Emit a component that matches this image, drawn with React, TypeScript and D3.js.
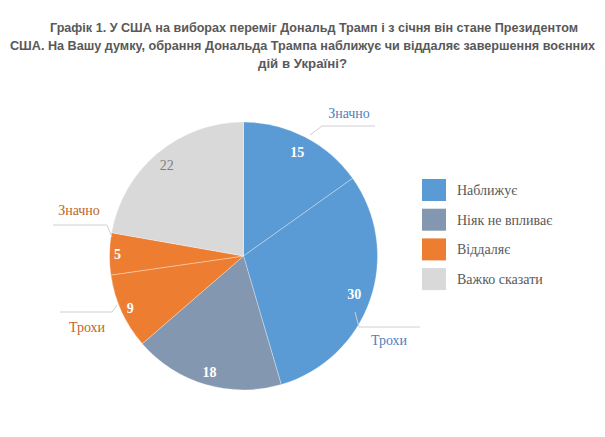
import React from "react";
import * as d3 from "d3";

const sliceValues = [15, 30, 18, 9, 5, 22];
const sliceGroups = ["Наближує", "Наближує", "Ніяк не впливає", "Віддаляє", "Віддаляє", "Важко сказати"];
const sliceSubLabels = ["Значно", "Трохи", "", "Трохи", "Значно", ""];
const legendLabels = ["Наближує", "Ніяк не впливає", "Віддаляє", "Важко сказати"];
const legendColors = ["#5b9bd5", "#8497b0", "#ed7d31", "#d9d9d9"];
const titleLines = [
  "Графік 1. У США на виборах переміг Дональд Трамп і з січня він стане Президентом",
  "США. На Вашу думку, обрання Дональда Трампа наближує чи віддаляє завершення воєнних",
  "дій в Україні?",
];

export default function App() {
  const W = 605, H = 437;
  const cx = 243.5, cy = 256, r = 134;
  const color = d3.scaleOrdinal<string, string>().domain(legendLabels).range(legendColors);
  const pie = d3.pie<number>().sort(null).value((d) => d);
  const arcs = pie(sliceValues);
  const arcGen = d3.arc<d3.PieArcDatum<number>>().innerRadius(0).outerRadius(r);
  const labelRadii = [0.875, 0.875, 0.9, 0.93, 0.94, 0.89];

  const valueColor = (i: number) => (sliceGroups[i] === "Важко сказати" ? "#7f7f7f" : "#ffffff");
  const valueBold = (i: number) => sliceGroups[i] !== "Важко сказати";

  const outer: Record<number, { pts: [number, number][]; tx: number; ty: number; col: string }> = {
    0: { pts: [[310, 135], [322, 126], [375, 126]], tx: 349, ty: 118, col: "#4f81bd" },
    1: { pts: [[355, 312], [359, 327], [420, 327]], tx: 389, ty: 345, col: "#4f81bd" },
    3: { pts: [[117, 305], [112, 312], [60, 312]], tx: 87, ty: 332, col: "#c0652b" },
    4: { pts: [[112, 237], [107, 225], [53, 225]], tx: 79, ty: 215, col: "#c0652b" },
  };

  const tw = [528, 585, 89];
  const tx = [314, 302.5, 302.5];
  const ty = [32, 50, 68];

  return (
    <svg width={W} height={H} style={{ position: "absolute", left: 0, top: 0, background: "#fff" }}>
      {titleLines.map((t, i) => (
        <text
          key={i}
          x={tx[i]}
          y={ty[i]}
          textAnchor="middle"
          fontFamily="Liberation Sans, Arial, sans-serif"
          fontWeight="bold"
          fontSize={13}
          fill="#595959"
          textLength={tw[i]}
          lengthAdjust="spacingAndGlyphs"
        >
          {t}
        </text>
      ))}
      <g transform={`translate(${cx},${cy})`}>
        {arcs.map((a, i) => (
          <path key={i} d={arcGen(a) || ""} fill={color(sliceGroups[i])} stroke="#ffffff" strokeWidth={0.6} strokeOpacity={0.5} />
        ))}
        {arcs.map((a, i) => {
          const rr = r * labelRadii[i];
          const [x, y] = d3.arc<d3.PieArcDatum<number>>().innerRadius(rr).outerRadius(rr).centroid(a);
          return (
            <text
              key={"v" + i}
              x={x}
              y={y}
              dy="0.35em"
              textAnchor="middle"
              fontFamily="Liberation Serif, Times New Roman, serif"
              fontWeight={valueBold(i) ? "bold" : "normal"}
              fontSize={14}
              fill={valueColor(i)}
            >
              {a.data}
            </text>
          );
        })}
      </g>
      {Object.entries(outer).map(([k, o]) => (
        <g key={k}>
          <polyline points={o.pts.map((p) => p.join(",")).join(" ")} fill="none" stroke="#d0d0d0" strokeWidth={1} />
          <text x={o.tx} y={o.ty} textAnchor="middle" fontFamily="Liberation Serif, Times New Roman, serif" fontSize={14} fill={o.col}>
            {sliceSubLabels[+k]}
          </text>
        </g>
      ))}
      {legendLabels.map((l, i) => (
        <g key={l} transform={`translate(422,${179 + i * 29.7})`}>
          <rect width={24} height={22} fill={color(l)} />
          <text x={35} y={11} dy="0.35em" fontFamily="Liberation Serif, Times New Roman, serif" fontSize={14} fill="#595959">
            {l}
          </text>
        </g>
      ))}
    </svg>
  );
}
